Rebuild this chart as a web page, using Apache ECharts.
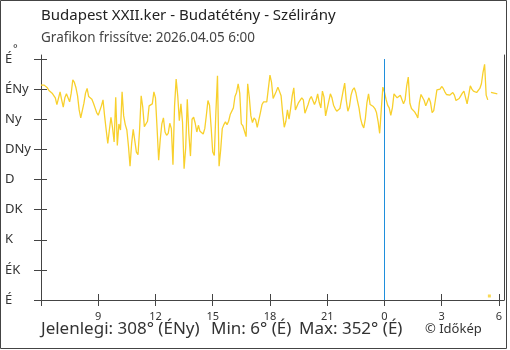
<!DOCTYPE html>
<html>
<head>
<meta charset="utf-8">
<script src="https://cdn.jsdelivr.net/npm/echarts@6/dist/echarts.min.js"></script>
<style>
  html, body { margin: 0; padding: 0; background: #fff; }
  #chart { width: 510px; height: 350px; }
</style>
</head>
<body>
<div id="chart"></div>
<script>
// Wind direction (degrees) every 5 minutes, starting 06:00 of the previous day
const startMinute = 6 * 60;
const stepMinutes = 5;
const direction = [
  321,321,321,321,317,313,311,309,308,302,292,294,
  311,299,288,302,308,306,296,309,329,325,317,305,
  284,272,273,294,309,316,304,302,300,294,287,280,
  276,276,290,299,275,254,234,254,273,257,236,303,
  231,263,254,311,275,262,254,230,200,234,255,253,
  221,217,254,305,288,259,258,267,290,290,293,311,
  302,257,209,240,263,272,251,246,249,264,256,202,
  290,330,305,268,293,266,196,227,300,248,215,270,
  273,264,251,261,252,251,248,256,276,298,291,258,
  221,216,281,335,200,224,256,262,266,262,267,277,
  279,287,304,310,323,309,263,260,261,244,323,303,
  275,265,272,269,258,260,280,292,296,295,296,295,
  336,325,301,303,312,318,318,305,279,258,267,284,
  270,286,305,317,284,285,295,297,302,299,279,278,
  292,300,304,306,292,298,308,295,287,312,303,275,
  275,297,308,302,291,286,282,281,286,299,312,324,
  298,282,289,306,314,317,310,298,287,271,262,257,
  271,295,308,292,290,289,286,280,267,249,284,318,
  311,300,291,287,276,287,308,305,302,304,306,304,
  293,299,320,333,294,286,286,281,277,272,295,307,
  305,298,290,291,302,295,280,283,298,314,313,315,
  319,316,311,307,308,306,306,310,306,298,300,301,
  305,309,312,310,293,306,320,315,312,311,310,312,
  316,323,340,352,306,299,6,310,309,309,308,308
];

// Compass names, one per 45 degrees (0..360)
const compassLabels = ['É', 'ÉK', 'K', 'DK', 'D', 'DNy', 'Ny', 'ÉNy', 'É'];
const yTickValues = [0, 45, 90, 135, 180, 225, 270, 315, 360];
// Hour ticks (minutes since the first midnight)
const xTickValues = [360, 540, 720, 900, 1080, 1260, 1440, 1620, 1800];
const xLabelValues = [540, 720, 900, 1080, 1260, 1440, 1620, 1800];
const midnight = 1440;

const titleText = 'Budapest XXII.ker - Budatétény - Szélirány';
const updatedText = 'Grafikon frissítve: 2026.04.05 6:00';
const creditText = '© Időkép';

function compassName(deg) {
  return compassLabels[Math.round(((deg % 360) + 360) % 360 / 45)];
}

// Break the line where the direction wraps round north; lone points become dots
const lineData = [];
const dots = [];
for (let i = 0; i < direction.length; i++) {
  const t = startMinute + i * stepMinutes;
  const jumpBefore = i > 0 && Math.abs(direction[i] - direction[i - 1]) > 180;
  const jumpAfter = i < direction.length - 1 && Math.abs(direction[i + 1] - direction[i]) > 180;
  if (jumpBefore) lineData.push([t - stepMinutes / 2, null]);
  lineData.push([t, direction[i]]);
  if (jumpBefore && (jumpAfter || i === direction.length - 1)) dots.push([t, direction[i]]);
}

const current = direction[direction.length - 1];
const minDir = Math.min(...direction);
const maxDir = Math.max(...direction);

const axisColor = '#444';
const textColor = '#333';
const lineColor = '#f8d02c';
const fontFamily = '"Noto Sans", sans-serif';

const chart = echarts.init(document.getElementById('chart'), null, { renderer: 'canvas' });

const hourLabel = v => String(Math.round(v / 60) % 24);

chart.setOption({
  animation: false,
  textStyle: { fontFamily: fontFamily },
  grid: { left: 41, right: 6, top: 55, bottom: 50 },
  title: [
    { text: titleText, left: 41, top: 8, padding: 0,
      textStyle: { fontSize: 15, fontWeight: 'normal', color: '#222', fontFamily: fontFamily } },
    { text: updatedText, left: 41, top: 31, padding: 0,
      textStyle: { fontSize: 13.5, fontWeight: 'normal', color: '#444', fontFamily: fontFamily } }
  ],
  xAxis: [
    {
      type: 'value', min: 360, max: 1816, position: 'bottom',
      axisLine: { show: true, lineStyle: { color: axisColor, width: 1 } },
      axisTick: { show: true, inside: false, length: 6, customValues: xTickValues,
                  lineStyle: { color: axisColor } },
      axisLabel: { customValues: xLabelValues, formatter: hourLabel, color: textColor,
                   fontSize: 11, margin: 11, fontFamily: fontFamily },
      splitLine: { show: false }
    },
    {
      type: 'value', min: 360, max: 1816, position: 'bottom',
      axisLine: { show: false },
      axisTick: { show: true, inside: true, length: 6, customValues: xTickValues,
                  lineStyle: { color: axisColor } },
      axisLabel: { show: false },
      splitLine: { show: false }
    }
  ],
  yAxis: [
    {
      type: 'value', min: 0, max: 366, position: 'left',
      axisLine: { show: true, lineStyle: { color: axisColor, width: 1 } },
      axisTick: { show: true, inside: false, length: 7, customValues: yTickValues,
                  lineStyle: { color: axisColor } },
      axisLabel: { customValues: yTickValues, formatter: v => compassLabels[Math.round(v / 45)],
                   color: textColor, fontSize: 13, align: 'left', margin: 36, fontFamily: fontFamily },
      splitLine: { show: false }
    },
    {
      type: 'value', min: 0, max: 366, position: 'left',
      axisLine: { show: false },
      axisTick: { show: true, inside: true, length: 6, customValues: yTickValues,
                  lineStyle: { color: axisColor } },
      axisLabel: { show: false },
      splitLine: { show: false }
    },
    {
      type: 'value', min: 0, max: 366, position: 'right',
      axisLine: { show: true, lineStyle: { color: axisColor, width: 1 } },
      axisTick: { show: false }, axisLabel: { show: false }, splitLine: { show: false }
    }
  ],
  series: [
    {
      type: 'line',
      data: lineData,
      connectNulls: false,
      showSymbol: false,
      symbol: 'none',
      lineStyle: { color: lineColor, width: 1.3 },
      silent: true,
      markLine: {
        silent: true,
        symbol: 'none',
        label: { show: false },
        lineStyle: { color: '#1f8fdc', width: 1, type: 'solid' },
        data: [[{ coord: [midnight, 0] }, { coord: [midnight, 360] }]]
      }
    },
    {
      type: 'scatter',
      data: dots,
      symbol: 'rect',
      symbolSize: 3,
      itemStyle: { color: lineColor },
      silent: true
    }
  ],
  graphic: [
    { type: 'rect', shape: { x: 0.5, y: 0.5, width: 506, height: 348 },
      style: { fill: 'none', stroke: axisColor, lineWidth: 1 }, silent: true },
    { type: 'text', left: 13, top: 43,
      style: { text: '°', fontSize: 11, fill: textColor, fontFamily: fontFamily } },
    { type: 'text', left: 41, top: 321,
      style: { text: 'Jelenlegi: ' + current + '° (' + compassName(current) + ')',
               fontSize: 17, fill: textColor, fontFamily: fontFamily } },
    { type: 'text', left: 211, top: 321,
      style: { text: 'Min: ' + minDir + '° (' + compassName(minDir) + ')',
               fontSize: 17, fill: textColor, fontFamily: fontFamily } },
    { type: 'text', left: 299, top: 321,
      style: { text: 'Max: ' + maxDir + '° (' + compassName(maxDir) + ')',
               fontSize: 17, fill: textColor, fontFamily: fontFamily } },
    { type: 'text', left: 425, top: 323,
      style: { text: creditText, fontSize: 13, fill: textColor, fontFamily: fontFamily } }
  ]
});
</script>
</body>
</html>
